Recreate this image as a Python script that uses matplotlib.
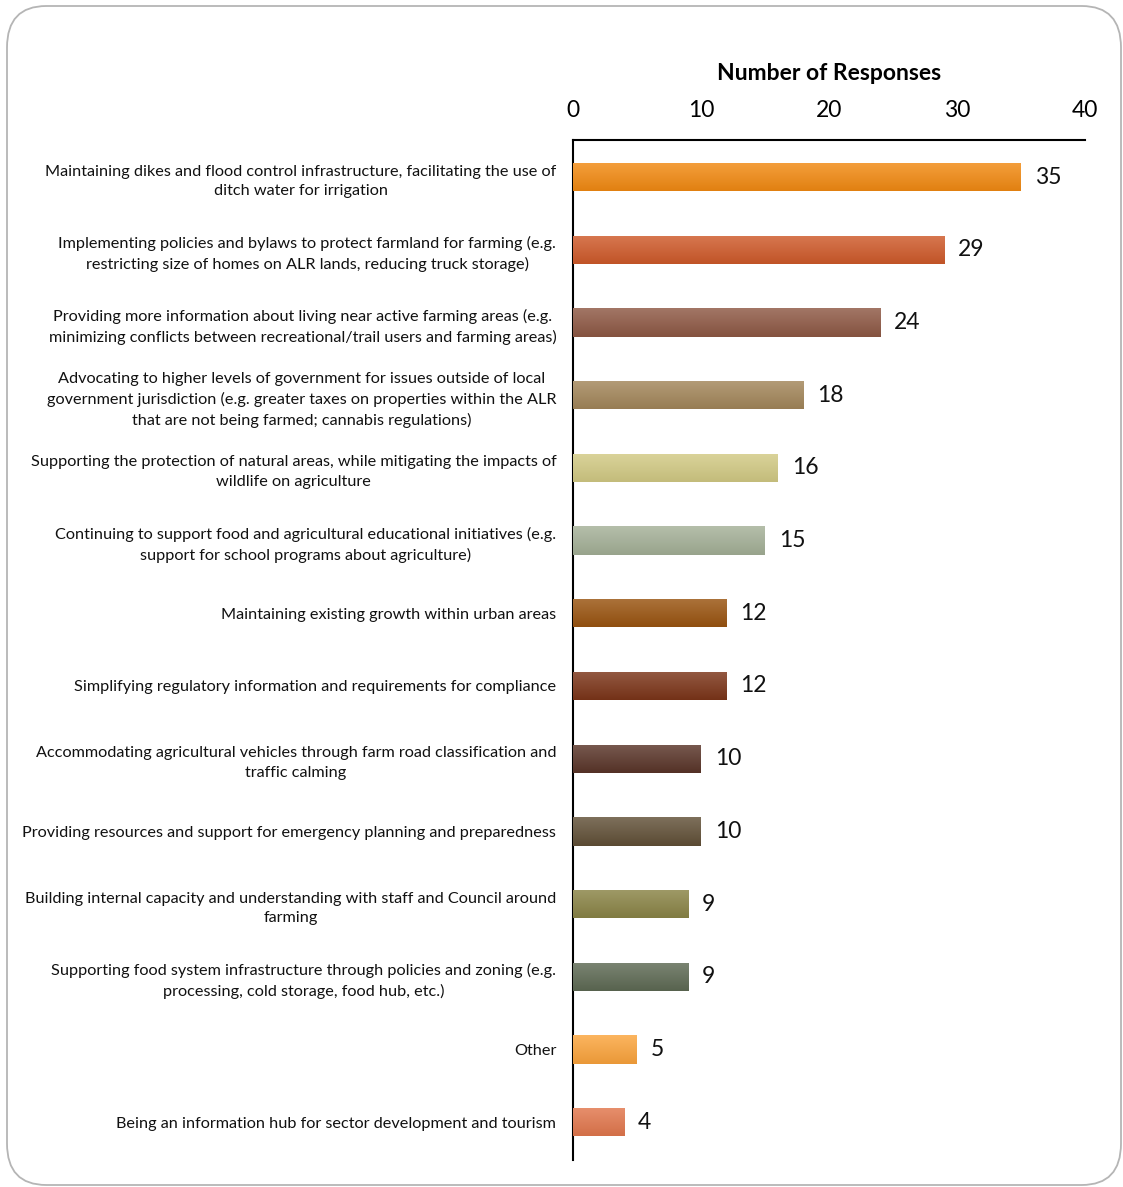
import matplotlib
matplotlib.use("Agg")
import matplotlib.pyplot as plt
import matplotlib.colors as mcolors
from matplotlib.patches import FancyBboxPatch
import numpy as np

plt.rcParams['font.family'] = ['Lato', 'DejaVu Sans']

categories = [
    "Maintaining dikes and flood control infrastructure, facilitating the use of\nditch water for irrigation",
    "Implementing policies and bylaws to protect farmland for farming (e.g.\nrestricting size of homes on ALR lands, reducing truck storage)",
    "Providing more information about living near active farming areas (e.g.\nminimizing conflicts between recreational/trail users and farming areas)",
    "Advocating to higher levels of government for issues outside of local\ngovernment jurisdiction (e.g. greater taxes on properties within the ALR\nthat are not being farmed; cannabis regulations)",
    "Supporting the protection of natural areas, while mitigating the impacts of\nwildlife on agriculture",
    "Continuing to support food and agricultural educational initiatives (e.g.\nsupport for school programs about agriculture)",
    "Maintaining existing growth within urban areas",
    "Simplifying regulatory information and requirements for compliance",
    "Accommodating agricultural vehicles through farm road classification and\ntraffic calming",
    "Providing resources and support for emergency planning and preparedness",
    "Building internal capacity and understanding with staff and Council around\nfarming",
    "Supporting food system infrastructure through policies and zoning (e.g.\nprocessing, cold storage, food hub, etc.)",
    "Other",
    "Being an information hub for sector development and tourism",
]
responses = [35, 29, 24, 18, 16, 15, 12, 12, 10, 10, 9, 9, 5, 4]
bar_colors = [
    "#F28A12", "#CF5A2A", "#8E5844", "#A3865A", "#D2CA84", "#A4B097", "#9A5410",
    "#7C3519", "#5A3529", "#615037", "#8A8446", "#5E6A54", "#FBA43C", "#E2774D",
]
xticks = [0, 10, 20, 30, 40]

fig = plt.figure(figsize=(11.23, 11.87), dpi=100)

# rounded card behind the chart
card = FancyBboxPatch((7 / 1123, 1 - 1185 / 1187), 1114 / 1123, 1179 / 1187,
                      boxstyle="round,pad=0,rounding_size=0.035",
                      transform=fig.transFigure, facecolor="none",
                      edgecolor="#B5B5B5", linewidth=1.3, zorder=-1)
fig.patches.append(card)

ax = fig.add_axes([573 / 1123, 1 - 1160 / 1187, 512 / 1123, 1020 / 1187])
ax.patch.set_alpha(0)

y = np.arange(len(categories))
bars = ax.barh(y, responses, height=0.39, color=bar_colors, zorder=2)

# vertical shading on each bar: lighter at the top, darker at the bottom
for bar, c in zip(bars, bar_colors):
    base = np.array(mcolors.to_rgb(c))
    top = base + (1 - base) * 0.18
    bottom = base * 0.93
    t = np.linspace(0, 1, 64)[:, None]
    grad = top * (1 - t[..., None]) + bottom * t[..., None]
    x0, y0 = bar.get_x(), bar.get_y()
    w, h = bar.get_width(), bar.get_height()
    im = ax.imshow(grad, extent=(x0, x0 + w, y0 + h, y0), aspect='auto',
                   origin='upper', zorder=3, interpolation='bilinear')
    im.set_clip_path(bar)

for yi, v in zip(y, responses):
    ax.annotate(str(v), (v, yi), xytext=(10, 0), textcoords='offset points',
                ha='left', va='center', fontsize=16.5, color='#111111')

ax.set_xlim(0, 40)
ax.set_ylim(len(categories) - 0.48, -0.51)
ax.xaxis.tick_top()
ax.xaxis.set_label_position('top')
ax.set_xticks(xticks)
ax.set_xticklabels([str(t) for t in xticks], fontsize=16.5)
ax.tick_params(axis='x', length=0, pad=14)
ax.set_xlabel("Number of Responses", fontsize=16.5, fontweight='bold', labelpad=14)

ax.set_yticks(y)
ax.set_yticklabels(categories, fontsize=11.7, linespacing=1.5,
                   multialignment='center', color='#111111')
ax.tick_params(axis='y', length=0, pad=12)

for s in ['right', 'bottom']:
    ax.spines[s].set_visible(False)
ax.spines['top'].set_linewidth(1.5)
ax.spines['left'].set_linewidth(1.5)

fig.savefig("out.png", dpi=100)
